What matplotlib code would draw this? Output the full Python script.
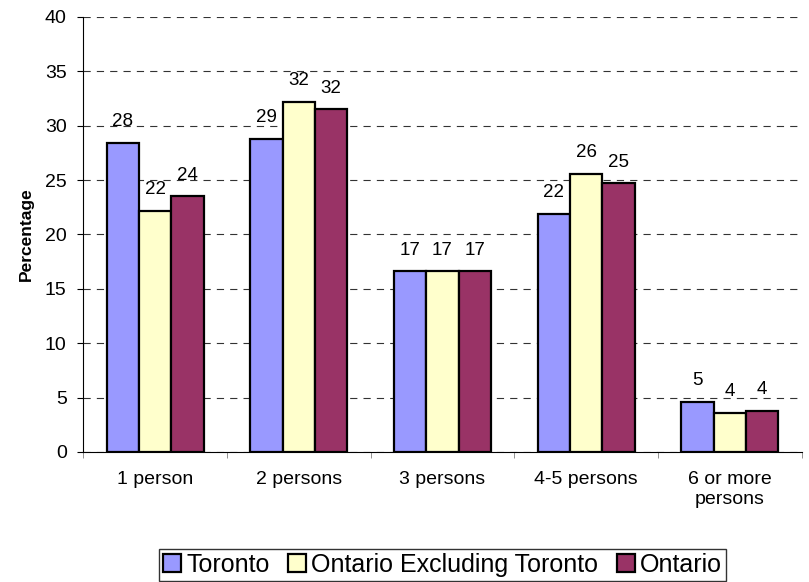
import matplotlib.pyplot as plt
import numpy as np

plt.rcParams['font.family'] = ['Liberation Sans', 'DejaVu Sans']

categories = ["1 person", "2 persons", "3 persons", "4-5 persons", "6 or more\npersons"]
toronto = [28.4, 28.8, 16.6, 21.9, 4.6]
ont_excl = [22.2, 32.2, 16.6, 25.6, 3.6]
ontario = [23.5, 31.5, 16.6, 24.7, 3.8]
series = ["Toronto", "Ontario Excluding Toronto", "Ontario"]
colors = ["#9999FF", "#FFFFCC", "#993366"]

fig = plt.figure(figsize=(8.09, 5.82), dpi=100)
ax = fig.add_axes([0.103, 0.2234, 0.888, 0.7474])

x = np.arange(len(categories))
w = 0.225
for i, (vals, name, c) in enumerate(zip([toronto, ont_excl, ontario], series, colors)):
    pos = x + (i - 1) * w
    ax.bar(pos, vals, w, color=c, edgecolor="black", linewidth=1.6, label=name, zorder=3)
    for p, v in zip(pos, vals):
        ax.annotate("%d" % round(v), (p, v), xytext=(0, 12), textcoords="offset points",
                    ha="center", va="baseline", fontsize=13.5)

ax.set_xlim(-0.5, len(categories) - 0.5)
ax.set_ylim(0, 40)
ax.set_yticks(range(0, 41, 5))
ax.yaxis.grid(True, linestyle=(0, (6.5, 5.5)), color="#333333", linewidth=0.8, zorder=0)
ax.set_xticks(x)
ax.set_xticklabels(categories, fontsize=14)
ax.set_xticks(np.arange(-0.5, len(categories)), minor=True)
ax.tick_params(axis="x", which="major", length=0, pad=14)
ax.tick_params(axis="x", which="minor", length=4, color="gray")
ax.tick_params(axis="y", labelsize=14, length=4, direction="out", pad=8)
ax.spines["top"].set_visible(False)
ax.spines["right"].set_visible(False)
ax.set_ylabel("Percentage", fontsize=12.5, fontweight="bold", labelpad=8)

ax.legend(loc="center", bbox_to_anchor=(0.5, -0.26), ncol=3, frameon=True, fancybox=False,
          edgecolor="black", fontsize=18, handlelength=0.72, handleheight=0.72,
          handletextpad=0.2, columnspacing=0.75, borderpad=0.15, borderaxespad=0)

fig.savefig("out.png", dpi=100)
